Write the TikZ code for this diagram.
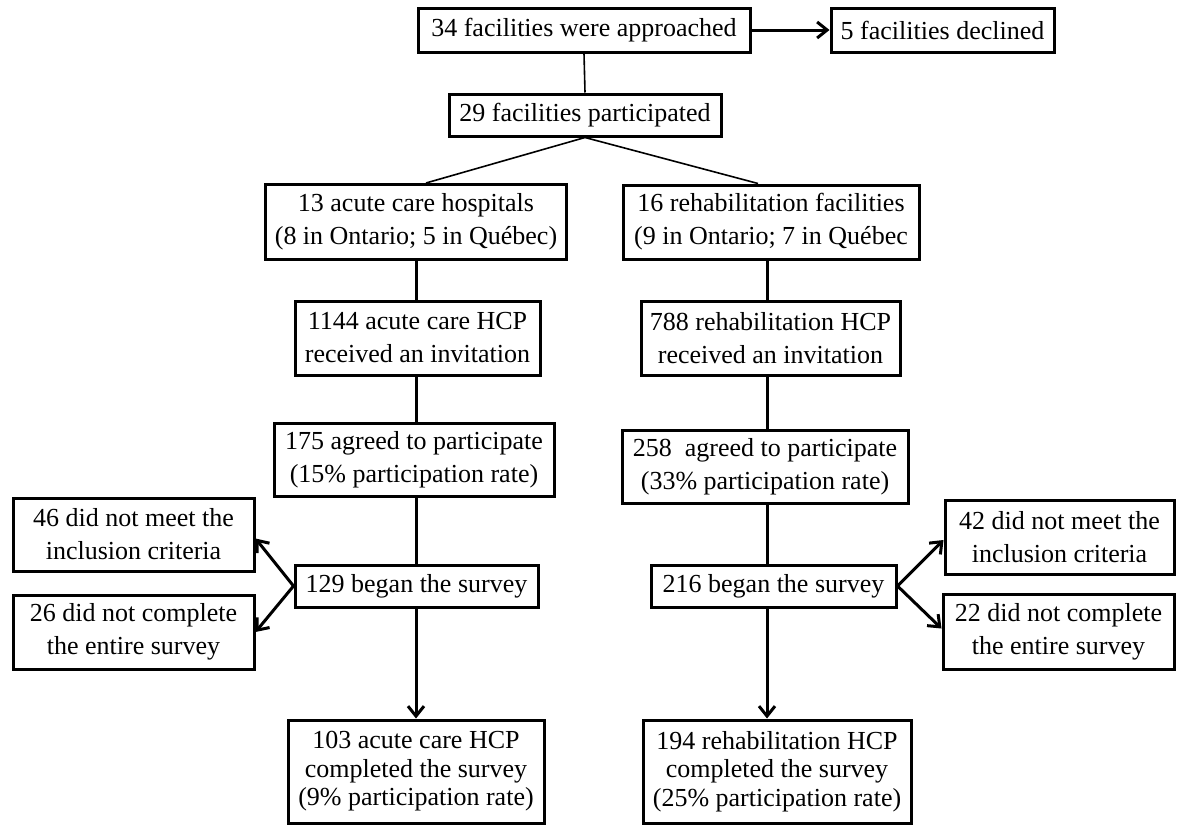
\documentclass[tikz,border=0pt]{standalone}
\usepackage{fontspec}
\setmainfont{Liberation Serif}
\usetikzlibrary{arrows.meta}
\begin{document}
\begin{tikzpicture}[x=1pt,y=-1pt,
  box/.style={draw, line width=3pt, align=center, inner sep=0pt, font=\fontsize{26}{33}\selectfont},
  tribox/.style={box, font=\fontsize{26}{28.5}\selectfont},
  thinline/.style={line width=1.6pt},
  conn/.style={line width=3pt},
  arr/.style={conn, -{Straight Barb[length=10pt,width=16pt,line width=3pt]}}]
\useasboundingbox (0,0) rectangle (1177,827);
\coordinate (cl) at (416,0);
\coordinate (cr) at (767,0);
\node[box, minimum width=332, minimum height=44] (A) at (584,30) {34 facilities were approached};
\node[box, minimum width=223, minimum height=44] (D) at (942.5,30) {5 facilities declined};
\node[box, minimum width=272, minimum height=42] (P) at (585,115) {29 facilities participated};
\node[box, minimum width=301, minimum height=75] (H) at (416,222) {13 acute care hospitals\\(8 in Ontario; 5 in Québec)};
\node[box, minimum width=296, minimum height=74] (R) at (771,222) {16 rehabilitation facilities\\(9 in Ontario; 7 in Québec};
\node[box, minimum width=245, minimum height=74] (I1) at (417.5,338) {1144 acute care HCP\\received an invitation};
\node[box, minimum width=259, minimum height=74] (I2) at (770.5,338) {788 rehabilitation HCP\\received an invitation};
\node[box, minimum width=280, minimum height=73] (G1) at (414,459.5) {175 agreed to participate\\(15\% participation rate)};
\node[box, minimum width=286, minimum height=73] (G2) at (765,466.5) {258~ agreed to participate\\(33\% participation rate)};
\node[box, minimum width=243, minimum height=42] (B1) at (416.5,586) {129 began the survey};
\node[box, minimum width=245, minimum height=42] (B2) at (773.5,586) {216 began the survey};
\node[box, minimum width=241, minimum height=73] (E1) at (133.5,534.5) {46 did not meet the\\inclusion criteria};
\node[box, minimum width=241, minimum height=74] (E2) at (133.5,632) {26 did not complete\\the entire survey};
\node[box, minimum width=229, minimum height=74] (E3) at (1059.5,537) {42 did not meet the\\inclusion criteria};
\node[box, minimum width=231, minimum height=75] (E4) at (1058.5,631.5) {22 did not complete\\the entire survey};
\node[tribox, minimum width=256, minimum height=103] (C1) at (416,771.5) {103 acute care HCP\\completed the survey\\(9\% participation rate)};
\node[tribox, minimum width=268, minimum height=103] (C2) at (777,771.5) {194 rehabilitation HCP\\completed the survey\\(25\% participation rate)};
% connectors
\draw[arr] (A.east) -- (D.west);
\draw[thinline] (A.south) -- (P.north);
\draw[thinline] (P.south) -- ([xshift=10pt]H.north);
\draw[thinline] (P.south) -- ([xshift=-13pt]R.north);
\draw[conn] (H.south -| cl) -- (I1.north -| cl);
\draw[conn] (I1.south -| cl) -- (G1.north -| cl);
\draw[conn] (G1.south -| cl) -- (B1.north -| cl);
\draw[arr] (B1.south -| cl) -- (C1.north -| cl);
\draw[conn] (R.south -| cr) -- (I2.north -| cr);
\draw[conn] (I2.south -| cr) -- (G2.north -| cr);
\draw[conn] (G2.south -| cr) -- (B2.north -| cr);
\draw[arr] (B2.south -| cr) -- (C2.north -| cr);
\draw[arr] (B1.west) -- ([yshift=-4pt]E1.east);
\draw[arr] (B1.west) -- (E2.east);
\draw[arr] (B2.east) -- ([yshift=-3pt]E3.west);
\draw[arr] (B2.east) -- ([yshift=3pt]E4.west);
\end{tikzpicture}
\end{document}
